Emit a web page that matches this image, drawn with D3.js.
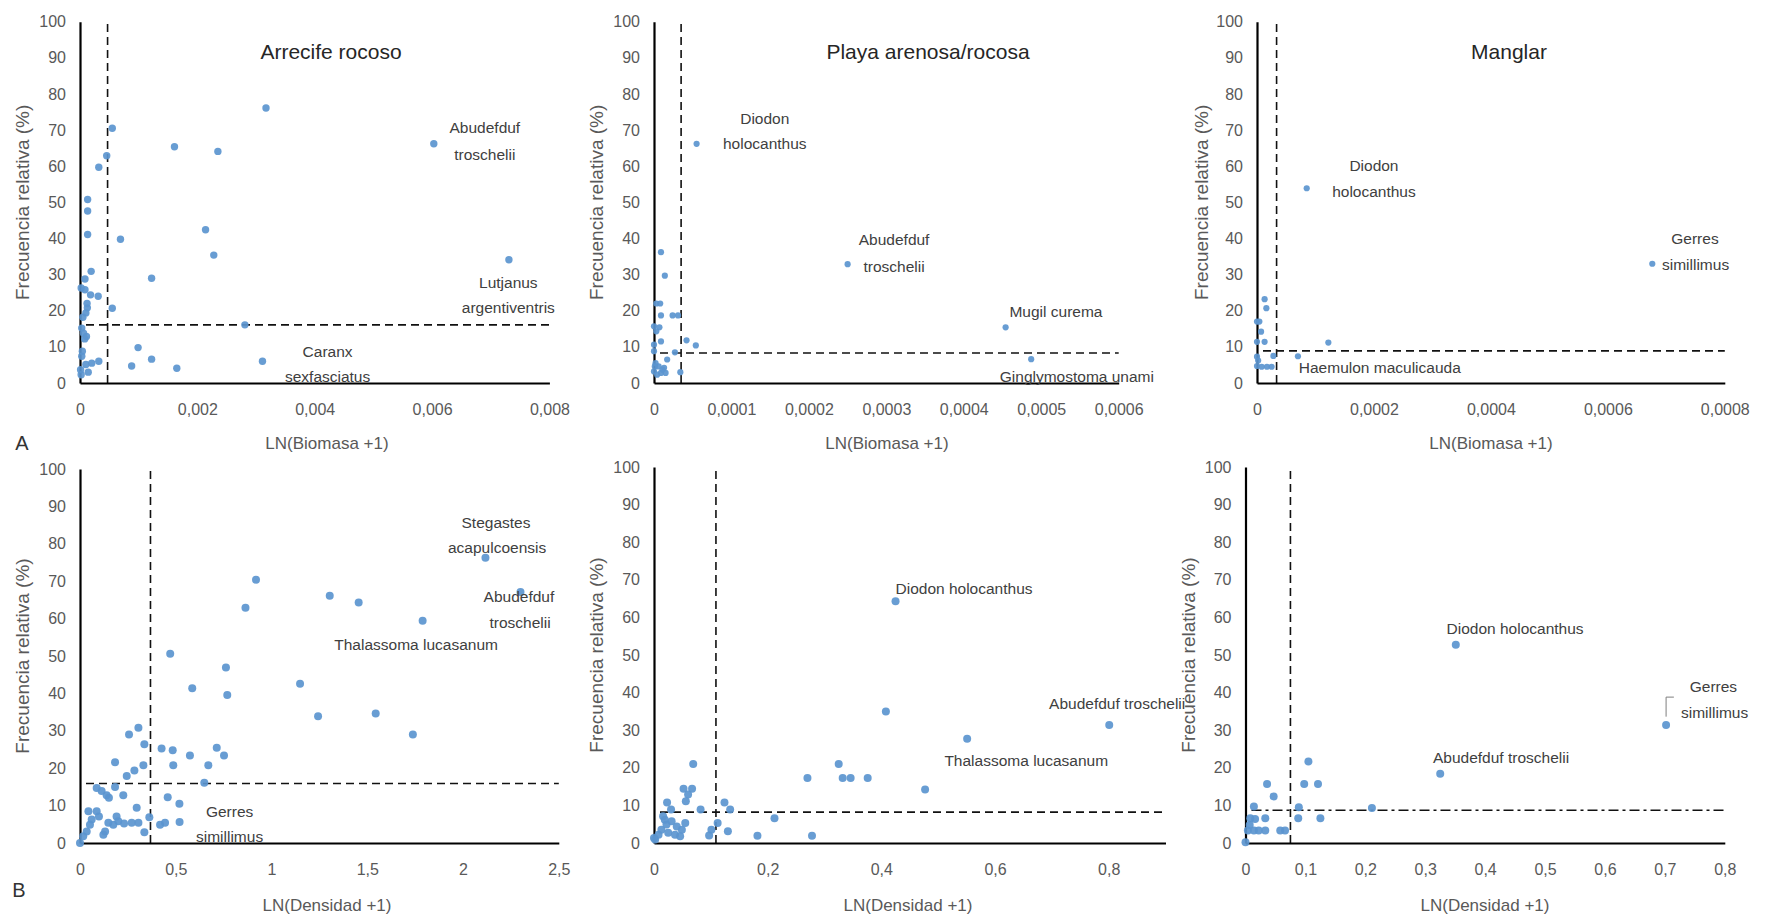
<!DOCTYPE html>
<html>
<head>
<meta charset="utf-8">
<script src="https://cdn.jsdelivr.net/npm/d3@7"></script>
<style>
  body { margin: 0; background: #fff; }
  text { font-family: "Liberation Sans", Arial, sans-serif; }
</style>
</head>
<body>
<svg id="chart" width="1767" height="918"></svg>
<script>
// Valores: frecuencia relativa (%) contra LN(Biomasa+1) y LN(Densidad+1)

// A - Arrecife rocoso (biomasa)
var arrecifeBioX = [0.00317, 0.00603, 0.00731, 0.00161, 0.00235, 0.00055, 0.000455, 0.00032, 0.00013, 0.00013, 0.00013, 0.00069, 0.00214, 0.00228, 0.00122, 0.00019, 0.00055, 0.00281, 0.00099, 0.00122, 0.00088, 0.00165, 0.00311, 0.00032, 0.000085, 0.00002, 0.000085, 0.00018, 0.00031, 0.000125, 0.0001, 0.00003, 0.00011, 0.00006, 0.00004, 0.0002, 0.0001, 0.00002, 0.00014, 0.00003, 0.00001, 0.00005, 0.00008, 0.00012];
var arrecifeBioY = [76.1, 66.2, 34.1, 65.4, 64.1, 70.5, 62.9, 59.7, 50.8, 47.6, 41.1, 39.8, 42.4, 35.4, 29.0, 30.9, 20.7, 16.1, 9.8, 6.6, 4.7, 4.1, 6.0, 6.0, 28.8, 26.3, 25.8, 24.4, 24.0, 20.8, 19.4, 15.2, 12.9, 13.8, 8.8, 5.5, 5.1, 2.3, 3.0, 7.4, 3.7, 18.2, 12.2, 22.0];

// A - Playa arenosa/rocosa (biomasa)
var playaBioX = [0.000055, 0.00025, 0.000454, 0.000487, 0.000009, 0.000014, 0.000003, 0.000008, 0.000009, 0.000024, 0.000031, 0.0, 0.000007, 0.000003, 0.000009, 0.0, 0.0, 0.000027, 0.000042, 0.000054, 0.000017, 0.000034, 0.000002, 0.000006, 0.000013, 0.0, 0.000009, 0.000015, 0.000004, 0.000011, 0.000001];
var playaBioY = [66.2, 32.9, 15.4, 6.6, 36.2, 29.7, 22.0, 22.0, 18.7, 18.7, 18.7, 15.7, 15.4, 14.3, 11.5, 10.6, 8.8, 8.5, 11.8, 10.4, 6.5, 3.0, 5.5, 4.6, 4.2, 3.2, 2.8, 2.8, 2.3, 3.7, 4.6];

// A - Manglar (biomasa)
var manglarBioX = [0.000085, 0.000676, 0.000122, 0.00007, 0.000013, 0.000016, 0.0, 0.000004, 0.000007, 0.0, 0.000013, 0.0, 0.000028, 0.0, 0.000008, 0.000017, 0.000025, 0.000002];
var manglarBioY = [53.9, 33.0, 11.2, 7.4, 23.2, 20.7, 17.0, 17.0, 14.2, 11.4, 11.4, 7.3, 7.5, 4.7, 4.5, 4.5, 4.5, 6.2];

// B - Arrecife rocoso (densidad)
var arrecifeDenX = [2.117, 2.30, 0.919, 0.864, 1.304, 1.455, 1.789, 0.471, 0.762, 0.586, 0.769, 1.149, 1.243, 1.544, 1.738, 0.256, 0.305, 0.336, 0.183, 0.244, 0.284, 0.331, 0.426, 0.484, 0.487, 0.574, 0.670, 0.649, 0.714, 0.752, 0.458, 0.519, 0.520, 0.444, 0.418, 0.296, 0.362, 0.336, 0.305, 0.27, 0.087, 0.113, 0.139, 0.151, 0.183, 0.226, 0.044, 0.087, 0.099, 0.061, 0.0, 0.017, 0.035, 0.052, 0.131, 0.148, 0.191, 0.2, 0.122, 0.174, 0.23];
var arrecifeDenY = [76.3, 67.1, 70.4, 62.9, 66.1, 64.3, 59.4, 50.6, 46.9, 41.4, 39.6, 42.6, 33.9, 34.6, 29.0, 29.0, 30.8, 26.4, 21.6, 17.9, 19.4, 20.8, 25.3, 24.8, 20.8, 23.4, 20.8, 16.1, 25.5, 23.4, 12.2, 10.5, 5.6, 5.4, 4.9, 9.4, 6.9, 2.9, 5.4, 5.4, 14.7, 13.9, 12.8, 12.1, 15.0, 12.8, 8.5, 8.5, 7.1, 6.3, 0.0, 1.8, 3.1, 4.9, 3.1, 5.4, 7.1, 5.8, 2.2, 4.9, 5.2];

// B - Playa arenosa/rocosa (densidad)
var playaDenX = [0.425, 0.801, 0.551, 0.408, 0.325, 0.270, 0.332, 0.346, 0.376, 0.477, 0.212, 0.182, 0.278, 0.069, 0.052, 0.067, 0.060, 0.056, 0.023, 0.030, 0.082, 0.124, 0.134, 0.112, 0.101, 0.097, 0.130, 0.002, 0.008, 0.013, 0.022, 0.019, 0.031, 0.040, 0.049, 0.055, 0.025, 0.037, 0.046, 0.016, 0.0];
var playaDenY = [64.3, 31.4, 27.7, 35.0, 21.0, 17.3, 17.3, 17.3, 17.3, 14.2, 6.6, 1.9, 1.9, 21.0, 14.4, 14.4, 12.9, 11.1, 10.8, 8.9, 8.9, 10.8, 8.9, 5.3, 3.5, 2.0, 3.1, 0.9, 2.2, 3.5, 4.9, 6.2, 5.8, 4.4, 3.5, 5.3, 2.7, 2.2, 1.8, 7.1, 1.3];

// B - Manglar (densidad)
var manglarDenX = [0.351, 0.702, 0.325, 0.211, 0.105, 0.098, 0.121, 0.036, 0.047, 0.014, 0.089, 0.033, 0.088, 0.125, 0.008, 0.016, 0.058, 0.066, 0.033, 0.022, 0.014, 0.004, 0.0, 0.007];
var manglarDenY = [52.7, 31.4, 18.4, 9.3, 21.7, 15.7, 15.7, 15.7, 12.4, 9.7, 9.5, 6.6, 6.6, 6.6, 6.6, 6.4, 3.3, 3.3, 3.3, 3.3, 3.3, 3.3, 0.2, 4.8];

// umbrales (líneas punteadas): [x, y]
var umbralArrecifeBio = [0.00047, 16.1];
var umbralPlayaBio = [0.000035, 8.3];
var umbralManglarBio = [0.0000335, 8.9];
var umbralArrecifeDen = [0.368, 15.9];
var umbralPlayaDen = [0.109, 8.2];
var umbralManglarDen = [0.075, 8.7];

// marcas de los ejes
var ticksFrec = [0, 10, 20, 30, 40, 50, 60, 70, 80, 90, 100];
var ticksBioArrecife = [0, 0.002, 0.004, 0.006, 0.008];
var labelsBioArrecife = ["0", "0,002", "0,004", "0,006", "0,008"];
var ticksBioPlaya = [0, 0.0001, 0.0002, 0.0003, 0.0004, 0.0005, 0.0006];
var labelsBioPlaya = ["0", "0,0001", "0,0002", "0,0003", "0,0004", "0,0005", "0,0006"];
var ticksBioManglar = [0, 0.0002, 0.0004, 0.0006, 0.0008];
var labelsBioManglar = ["0", "0,0002", "0,0004", "0,0006", "0,0008"];
var ticksDenArrecife = [0, 0.5, 1, 1.5, 2, 2.5];
var labelsDenArrecife = ["0", "0,5", "1", "1,5", "2", "2,5"];
var ticksDenPlaya = [0, 0.2, 0.4, 0.6, 0.8];
var labelsDenPlaya = ["0", "0,2", "0,4", "0,6", "0,8"];
var ticksDenManglar = [0, 0.1, 0.2, 0.3, 0.4, 0.5, 0.6, 0.7, 0.8];
var labelsDenManglar = ["0", "0,1", "0,2", "0,3", "0,4", "0,5", "0,6", "0,7", "0,8"];

// nombres de especies: [texto, x, y] en unidades de los datos
var notasArrecifeBio = [["Abudefduf", 0.0069, 70.6], ["troschelii", 0.0069, 63.1], ["Lutjanus", 0.0073, 27.7], ["argentiventris", 0.0073, 20.8], ["Caranx", 0.00422, 8.6], ["sexfasciatus", 0.00422, 1.7]];
var notasPlayaBio = [["Diodon", 0.000143, 73.3], ["holocanthus", 0.000143, 66.4], ["Abudefduf", 0.00031, 39.6], ["troschelii", 0.00031, 32.1], ["Mugil curema", 0.000519, 19.7], ["Ginglymostoma unami", 0.000546, 1.7]];
var notasManglarBio = [["Diodon", 0.0002, 60.1], ["holocanthus", 0.0002, 52.9], ["Gerres", 0.000749, 40.1], ["simillimus", 0.00075, 32.9], ["Haemulon maculicauda", 0.00021, 4.2]];
var notasArrecifeDen = [["Stegastes", 2.172, 85.8], ["acapulcoensis", 2.178, 79.1], ["Abudefduf", 2.292, 66.0], ["troschelii", 2.298, 59.0], ["Thalassoma lucasanum", 1.755, 53.1], ["Gerres", 0.781, 8.3], ["simillimus", 0.781, 1.6]];
var notasPlayaDen = [["Diodon holocanthus", 0.5455, 67.6], ["Abudefduf troschelii", 0.815, 37.2], ["Thalassoma lucasanum", 0.655, 21.9]];
var notasManglarDen = [["Diodon holocanthus", 0.45, 56.9], ["Abudefduf troschelii", 0.4265, 22.7], ["Gerres", 0.781, 41.6], ["simillimus", 0.783, 34.8]];
var guiaGerres = [[0.702, 33.6], [0.702, 38.8], [0.715, 38.8]];

var svg = d3.select("#chart");
var colorPunto = "#5b95cf";
var grisTexto = "#595959";

// cada panel: posición en la página y su escala
var paneles = [
  {x: arrecifeBioX, y: arrecifeBioY, dom: 0.008, px: [80, 549.4], py: [383, 21.7], ticks: ticksBioArrecife, labels: labelsBioArrecife, umbral: umbralArrecifeBio, notas: notasArrecifeBio, r: 3.7,
   titulo: "Arrecife rocoso", tx: 331, xtitulo: "LN(Biomasa +1)", xtx: 327, ytx: 22, dash: "8,5"},
  {x: playaBioX, y: playaBioY, dom: 0.0006, px: [654, 1118.7], py: [383, 21.7], ticks: ticksBioPlaya, labels: labelsBioPlaya, umbral: umbralPlayaBio, notas: notasPlayaBio, r: 3.1,
   titulo: "Playa arenosa/rocosa", tx: 928, xtitulo: "LN(Biomasa +1)", xtx: 887, ytx: 596, dash: "8,5"},
  {x: manglarBioX, y: manglarBioY, dom: 0.0008, px: [1257, 1724.8], py: [383, 21.7], ticks: ticksBioManglar, labels: labelsBioManglar, umbral: umbralManglarBio, notas: notasManglarBio, r: 3.1,
   titulo: "Manglar", tx: 1509, xtitulo: "LN(Biomasa +1)", xtx: 1491, ytx: 1201, dash: "8,5"},
  {x: arrecifeDenX, y: arrecifeDenY, dom: 2.5, px: [80, 558.8], py: [843, 469], ticks: ticksDenArrecife, labels: labelsDenArrecife, umbral: umbralArrecifeDen, notas: notasArrecifeDen, r: 4,
   titulo: null, xtitulo: "LN(Densidad +1)", xtx: 327, ytx: 22, dash: "8,5"},
  {x: playaDenX, y: playaDenY, dom: 0.9, px: [654, 1165.5], py: [843, 467], ticks: ticksDenPlaya, labels: labelsDenPlaya, umbral: umbralPlayaDen, notas: notasPlayaDen, r: 4,
   titulo: null, xtitulo: "LN(Densidad +1)", xtx: 908, ytx: 596, dash: "8,5"},
  {x: manglarDenX, y: manglarDenY, dom: 0.8, px: [1245.5, 1724.8], py: [843, 467], ticks: ticksDenManglar, labels: labelsDenManglar, umbral: umbralManglarDen, notas: notasManglarDen, r: 4,
   titulo: null, xtitulo: "LN(Densidad +1)", xtx: 1485, ytx: 1188, dash: "10,4,3,4"}
];

paneles.forEach(function (p, k) {
  var xScale = d3.scaleLinear().domain([0, p.dom]).range(p.px);
  var yScale = d3.scaleLinear().domain([0, 100]).range(p.py);
  var g = svg.append("g");

  // líneas de umbral
  g.append("line")
    .attr("x1", xScale(p.umbral[0])).attr("x2", xScale(p.umbral[0]))
    .attr("y1", yScale(0)).attr("y2", yScale(100))
    .attr("stroke", "#111").attr("stroke-width", 1.6).attr("stroke-dasharray", "8,5");
  g.append("line")
    .attr("x1", xScale(0) + 6).attr("x2", xScale(p.dom))
    .attr("y1", yScale(p.umbral[1])).attr("y2", yScale(p.umbral[1]))
    .attr("stroke", "#111").attr("stroke-width", 1.6).attr("stroke-dasharray", p.dash);

  // ejes
  var ejeX = d3.axisBottom(xScale).tickValues(p.ticks)
    .tickFormat(function (d, i) { return p.labels[i]; })
    .tickSize(0).tickPadding(21);
  var ejeY = d3.axisLeft(yScale).tickValues(ticksFrec).tickSize(0).tickPadding(14);

  var gx = g.append("g").attr("transform", "translate(0," + yScale(0) + ")").call(ejeX);
  var gy = g.append("g").attr("transform", "translate(" + xScale(0) + ",0)").call(ejeY);
  [gx, gy].forEach(function (a) {
    a.select(".domain").attr("stroke", "#000").attr("stroke-width", 2.2);
    a.selectAll("text").attr("fill", grisTexto).style("font-size", "16px");
  });

  // puntos
  g.selectAll("circle.punto")
    .data(p.x.map(function (v, i) { return [v, p.y[i]]; }))
    .enter().append("circle")
    .attr("class", "punto")
    .attr("cx", function (d) { return xScale(d[0]); })
    .attr("cy", function (d) { return yScale(d[1]); })
    .attr("r", p.r)
    .attr("fill", colorPunto)
    .attr("fill-opacity", 0.92);

  // nombres de especies
  g.selectAll("text.nota")
    .data(p.notas)
    .enter().append("text")
    .attr("class", "nota")
    .attr("x", function (d) { return xScale(d[1]); })
    .attr("y", function (d) { return yScale(d[2]); })
    .attr("dy", "0.35em")
    .attr("text-anchor", "middle")
    .attr("fill", "#404040")
    .style("font-size", "15.5px")
    .text(function (d) { return d[0]; });

  if (k === 5) {
    g.append("path")
      .attr("d", d3.line().x(function (d) { return xScale(d[0]); }).y(function (d) { return yScale(d[1]); })(guiaGerres))
      .attr("fill", "none").attr("stroke", "#7f7f7f").attr("stroke-width", 1);
  }

  // títulos
  if (p.titulo) {
    g.append("text").attr("x", p.tx).attr("y", 52).attr("dy", "0.35em")
      .attr("text-anchor", "middle").attr("fill", "#262626")
      .style("font-size", "21px").text(p.titulo);
  }
  var baseY = yScale(0);
  g.append("text").attr("x", p.xtx).attr("y", baseY + (k < 3 ? 60 : 62)).attr("dy", "0.35em")
    .attr("text-anchor", "middle").attr("fill", grisTexto)
    .style("font-size", "17px").text(p.xtitulo);
  var yMid = (p.py[0] + p.py[1]) / 2;
  g.append("text")
    .attr("transform", "translate(" + p.ytx + "," + yMid + ") rotate(-90)")
    .attr("dy", "0.35em").attr("text-anchor", "middle").attr("fill", grisTexto)
    .style("font-size", "19px").text("Frecuencia relativa (%)");
});

// letras de las filas
svg.append("text").attr("x", 22).attr("y", 443).attr("dy", "0.35em").attr("text-anchor", "middle")
  .attr("fill", "#333").style("font-size", "20px").text("A");
svg.append("text").attr("x", 19).attr("y", 890).attr("dy", "0.35em").attr("text-anchor", "middle")
  .attr("fill", "#333").style("font-size", "20px").text("B");
</script>
</body>
</html>
